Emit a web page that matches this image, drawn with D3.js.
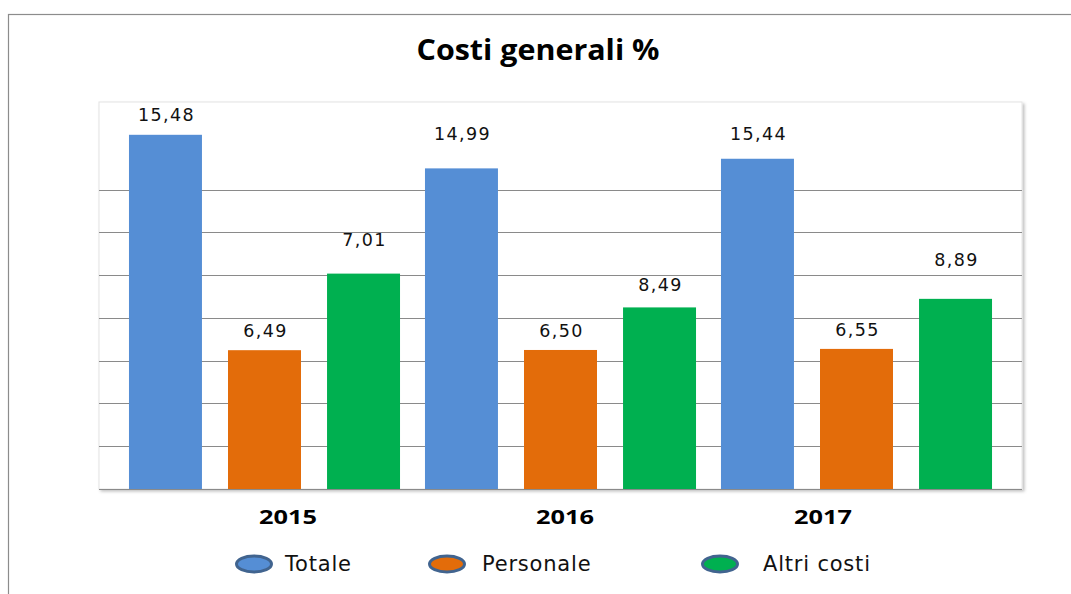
<!DOCTYPE html>
<html>
<head>
<meta charset="utf-8">
<script src="https://cdn.jsdelivr.net/npm/d3@7"></script>
<style>
    body { margin: 0; background: #fff; }
</style>
</head>
<body>
<div id="chart"></div>
<script>
// Data
let years       =   ['2015', '2016', '2017'];
let seriesNames =   ['Totale', 'Personale', 'Altri costi'];
// bar heights as drawn in the picture
let totale      =   [16.56, 14.99, 15.44];
let personale   =   [6.49, 6.50, 6.55];
let altriCosti  =   [10.07, 8.49, 8.89];
// data labels as printed
let totaleLabels     = ['15,48', '14,99', '15,44'];
let personaleLabels  = ['6,49', '6,50', '6,55'];
let altriCostiLabels = ['7,01', '8,49', '8,89'];
let gridValues  =   [2, 4, 6, 8, 10, 12, 14];

let colors = ['#558ed5', '#e36c0a', '#00b050'];

let chart_width  = 1071;
let chart_height = 594;

// layout
let plot = { left: 99, right: 1022, top: 102, bottom: 489 };
// gap between bar top and label baseline (labels were hand placed)
let labelGap = [
    [14, 28, 19],
    [13, 13, 13],
    [28, 16, 33]
];
let yearX = [288, 565, 823];
let legendX = [254, 447, 720];
let legendTextX = [285, 482, 763];

let values = [totale, personale, altriCosti];
let labels = [totaleLabels, personaleLabels, altriCostiLabels];

let data = [];
years.forEach(function(y, i) {
    seriesNames.forEach(function(s, j) {
        data.push({ year: y, series: s, si: j, yi: i, value: values[j][i], label: labels[j][i] });
    });
});

let svg = d3.select('#chart')
    .append('svg')
    .attr('width', chart_width)
    .attr('height', chart_height);

// shadow for plot area
let defs = svg.append('defs');
defs.append('filter')
    .attr('id', 'shadow')
    .attr('x', '-5%').attr('y', '-5%')
    .attr('width', '110%').attr('height', '110%')
    .append('feDropShadow')
    .attr('dx', 2).attr('dy', 2)
    .attr('stdDeviation', 1.5)
    .attr('flood-color', '#000')
    .attr('flood-opacity', 0.25);

// outer chart border
svg.append('rect')
    .attr('x', 8.5)
    .attr('y', 14.5)
    .attr('width', 1080)
    .attr('height', 600)
    .attr('fill', '#fff')
    .attr('stroke', '#8c8c8c')
    .attr('stroke-width', 1.2);

// title
svg.append('text')
    .attr('x', 538)
    .attr('y', 60)
    .attr('text-anchor', 'middle')
    .attr('font-family', 'Open Sans, sans-serif')
    .attr('font-weight', 'bold')
    .attr('font-size', 29)
    .attr('textLength', 243)
    .attr('lengthAdjust', 'spacingAndGlyphs')
    .attr('fill', '#000')
    .text('Costi generali %');

// plot area
svg.append('rect')
    .attr('x', plot.left)
    .attr('y', plot.top)
    .attr('width', plot.right - plot.left)
    .attr('height', plot.bottom - plot.top)
    .attr('fill', '#fff')
    .attr('stroke', '#e4e4e4')
    .attr('filter', 'url(#shadow)');

// scales
let x0 = d3.scaleBand()
    .domain(years)
    .range([116.5, 1004.5]);

let x1 = d3.scaleBand()
    .domain(seriesNames)
    .range([0, x0.bandwidth()])
    .paddingInner(0.263)
    .paddingOuter(0.126);

let yScale = d3.scaleLinear()
    .domain([0, 18])
    .range([plot.bottom, 104]);

// gridlines
svg.append('g')
    .selectAll('line')
    .data(gridValues)
    .enter()
    .append('line')
    .attr('x1', plot.left)
    .attr('x2', plot.right)
    .attr('y1', d => Math.round(yScale(d)) + 0.5)
    .attr('y2', d => Math.round(yScale(d)) + 0.5)
    .attr('stroke', '#8a8a8a')
    .attr('stroke-width', 1);

// bars
svg.append('g')
    .selectAll('rect')
    .data(data)
    .enter()
    .append('rect')
    .attr('x', d => x0(d.year) + x1(d.series))
    .attr('y', d => yScale(d.value))
    .attr('width', x1.bandwidth())
    .attr('height', d => yScale(0) - yScale(d.value))
    .attr('fill', d => colors[d.si]);

// baseline
svg.append('line')
    .attr('x1', plot.left)
    .attr('x2', plot.right)
    .attr('y1', yScale(0) + 0.5)
    .attr('y2', yScale(0) + 0.5)
    .attr('stroke', '#8a8a8a');

// data labels
svg.append('g')
    .selectAll('text')
    .data(data)
    .enter()
    .append('text')
    .attr('x', d => x0(d.year) + x1(d.series) + x1.bandwidth() / 2 + 1)
    .attr('y', d => yScale(d.value) - labelGap[d.si][d.yi])
    .attr('text-anchor', 'middle')
    .attr('font-family', 'DejaVu Sans, sans-serif')
    .attr('font-size', 17.5)
    .attr('letter-spacing', 1.4)
    .attr('fill', '#111')
    .text(d => d.label);

// year labels
svg.append('g')
    .selectAll('text')
    .data(years)
    .enter()
    .append('text')
    .attr('x', (d, i) => yearX[i])
    .attr('y', 524)
    .attr('text-anchor', 'middle')
    .attr('font-family', 'Open Sans, sans-serif')
    .attr('font-weight', 'bold')
    .attr('font-size', 20)
    .attr('textLength', 58)
    .attr('lengthAdjust', 'spacingAndGlyphs')
    .attr('fill', '#000')
    .text(d => d);

// legend
let legend = svg.append('g')
    .selectAll('g')
    .data(seriesNames)
    .enter()
    .append('g');

legend.append('ellipse')
    .attr('cx', (d, i) => legendX[i])
    .attr('cy', 564)
    .attr('rx', 17.5)
    .attr('ry', 8)
    .attr('fill', (d, i) => colors[i])
    .attr('stroke', '#41648f')
    .attr('stroke-width', 3);

legend.append('text')
    .attr('x', (d, i) => legendTextX[i])
    .attr('y', 571)
    .attr('font-family', 'DejaVu Sans, sans-serif')
    .attr('font-size', 21)
    .attr('letter-spacing', 0.8)
    .attr('fill', '#111')
    .text(d => d);
</script>
</body>
</html>
